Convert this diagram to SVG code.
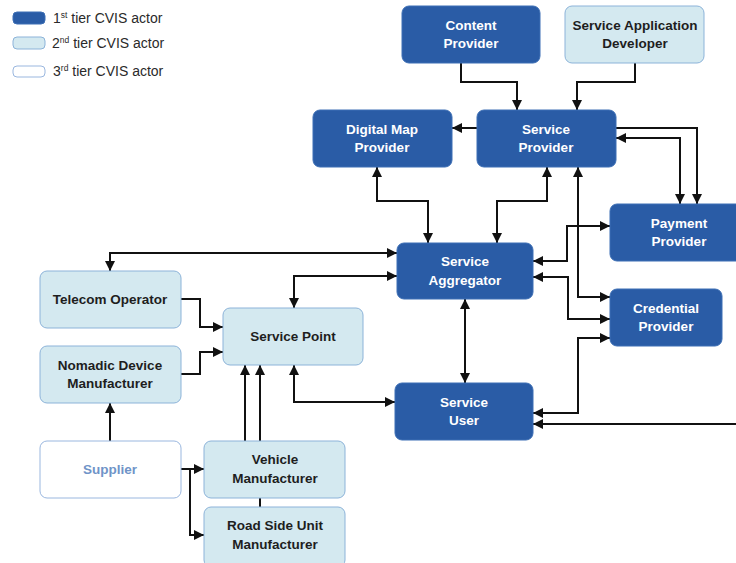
<svg xmlns="http://www.w3.org/2000/svg" width="736" height="563" viewBox="0 0 736 563">
  <defs>
    <marker id="ah" viewBox="0 0 10 10" refX="10" refY="5" markerWidth="11" markerHeight="10" markerUnits="userSpaceOnUse" orient="auto-start-reverse">
      <path d="M0,0 L10,5 L0,10 z" fill="#111"/>
    </marker>
    <style>
      .t1 rect { fill: #2a5ca6; stroke: #3d6fb5; stroke-width: 1; }
      .t2 rect { fill: #d4e9f0; stroke: #8cb3d9; stroke-width: 1; }
      .t3 rect { fill: #ffffff; stroke: #9ab7df; stroke-width: 1; }
      text { font-family: "Liberation Sans", Arial, sans-serif; font-weight: bold; font-size: 13.5px; text-anchor: middle; }
      .t1 text { fill: #ffffff; }
      .t2 text { fill: #1e1e1e; }
      .t3 text { fill: #6f94c8; }
      .legend text { font-weight: normal; font-size: 14px; text-anchor: start; fill: #2a2a2a; }
      .legend tspan.sup { font-size: 8.5px; }
      #connectors path { fill: none; stroke: #111; stroke-width: 2; }
      .both { marker-start: url(#ah); marker-end: url(#ah); }
      .one { marker-end: url(#ah); }
    </style>
  </defs>

  <rect width="736" height="563" fill="#ffffff"/>

  <!-- legend -->
  <g id="legend" class="legend">
    <g class="t1"><rect x="13" y="12" width="32" height="12" rx="4"/></g>
    <text x="53" y="23">1<tspan class="sup" dy="-5">st</tspan><tspan dy="5"> tier CVIS actor</tspan></text>
    <g class="t2"><rect x="13" y="37" width="32" height="12" rx="4"/></g>
    <text x="52" y="48">2<tspan class="sup" dy="-5">nd</tspan><tspan dy="5"> tier CVIS actor</tspan></text>
    <g class="t3"><rect x="13" y="66" width="32" height="11" rx="4"/></g>
    <text x="53" y="76">3<tspan class="sup" dy="-5">rd</tspan><tspan dy="5"> tier CVIS actor</tspan></text>
  </g>

  <!-- connectors -->
  <g id="connectors">
    <path class="one" d="M461,63 V82 H517 V110"/>
    <path class="one" d="M635,63 V82 H577 V110"/>
    <path class="one" d="M477,128 H452"/>
    <path class="one" d="M616,128 H697 V204"/>
    <path class="both" d="M616,138 H680 V204"/>
    <path class="both" d="M377,167 V201 H428 V243"/>
    <path class="both" d="M547,167 V201 H497 V243"/>
    <path class="both" d="M578,167 V297 H610"/>
    <path class="both" d="M533,261 H567 V226 H610"/>
    <path class="both" d="M533,277 H568 V319 H610"/>
    <path class="both" d="M533,413 H578 V338 H610"/>
    <path class="one" d="M740,424 H533"/>
    <path class="both" d="M465,299 V383"/>
    <path class="both" d="M110,271 V253 H397"/>
    <path class="both" d="M294,308 V276 H397"/>
    <path class="one" d="M181,299 H200 V327 H223"/>
    <path class="one" d="M181,374 H200 V352 H223"/>
    <path class="both" d="M294,365 V402 H395"/>
    <path class="one" d="M245,441 V365"/>
    <path class="one" d="M260,507 V365"/>
    <path class="one" d="M110,441 V403"/>
    <path class="one" d="M181,469 H204"/>
    <path class="one" d="M190,469 V535 H204"/>
  </g>

  <!-- first tier actors -->
  <g id="content-provider" class="t1">
    <rect x="402" y="6" width="138" height="57" rx="7"/>
    <text x="471" y="30">Content</text>
    <text x="471" y="48">Provider</text>
  </g>
  <g id="digital-map-provider" class="t1">
    <rect x="313" y="110" width="139" height="57" rx="7"/>
    <text x="382" y="134">Digital Map</text>
    <text x="382" y="152">Provider</text>
  </g>
  <g id="service-provider" class="t1">
    <rect x="477" y="110" width="139" height="57" rx="7"/>
    <text x="546" y="134">Service</text>
    <text x="546" y="152">Provider</text>
  </g>
  <g id="service-aggregator" class="t1">
    <rect x="397" y="243" width="136" height="56" rx="7"/>
    <text x="465" y="266">Service</text>
    <text x="465" y="285">Aggregator</text>
  </g>
  <g id="payment-provider" class="t1">
    <rect x="610" y="204" width="138" height="57" rx="7"/>
    <text x="679" y="228">Payment</text>
    <text x="679" y="246">Provider</text>
  </g>
  <g id="credential-provider" class="t1">
    <rect x="610" y="289" width="112" height="57" rx="7"/>
    <text x="666" y="313">Credential</text>
    <text x="666" y="331">Provider</text>
  </g>
  <g id="service-user" class="t1">
    <rect x="395" y="383" width="138" height="57" rx="7"/>
    <text x="464" y="407">Service</text>
    <text x="464" y="425">User</text>
  </g>

  <!-- second tier actors -->
  <g id="service-application-developer" class="t2">
    <rect x="565" y="6" width="139" height="57" rx="7"/>
    <text x="635" y="30">Service Application</text>
    <text x="635" y="48">Developer</text>
  </g>
  <g id="telecom-operator" class="t2">
    <rect x="40" y="271" width="141" height="57" rx="7"/>
    <text x="110" y="304">Telecom Operator</text>
  </g>
  <g id="nomadic-device-manufacturer" class="t2">
    <rect x="40" y="346" width="141" height="57" rx="7"/>
    <text x="110" y="370">Nomadic Device</text>
    <text x="110" y="388">Manufacturer</text>
  </g>
  <g id="service-point" class="t2">
    <rect x="223" y="308" width="140" height="57" rx="7"/>
    <text x="293" y="341">Service Point</text>
  </g>
  <g id="vehicle-manufacturer" class="t2">
    <rect x="204" y="441" width="141" height="57" rx="7"/>
    <text x="275" y="464">Vehicle</text>
    <text x="275" y="483">Manufacturer</text>
  </g>
  <g id="road-side-unit-manufacturer" class="t2">
    <rect x="204" y="507" width="141" height="60" rx="7"/>
    <text x="275" y="530">Road Side Unit</text>
    <text x="275" y="549">Manufacturer</text>
  </g>

  <!-- third tier actor -->
  <g id="supplier" class="t3">
    <rect x="40" y="441" width="141" height="57" rx="7"/>
    <text x="110" y="474">Supplier</text>
  </g>
</svg>
